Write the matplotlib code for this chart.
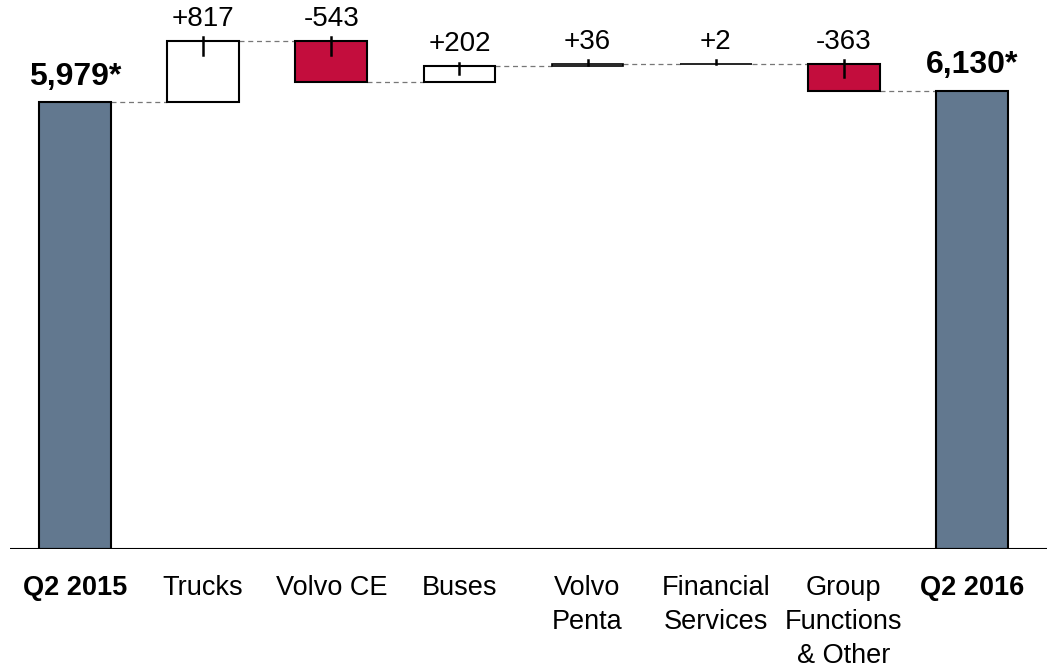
import numpy as np
import matplotlib.pyplot as plt

plt.rcParams['font.family'] = ['Liberation Sans', 'DejaVu Sans']

# Operating income bridge Q2 2015 -> Q2 2016
labels = ['Q2 2015', 'Trucks', 'Volvo CE', 'Buses', 'Volvo\nPenta',
          'Financial\nServices', 'Group\nFunctions\n& Other', 'Q2 2016']
start_total = 5979
end_total = 6130
deltas = [817, -543, 202, 36, 2, -363]
delta_text = ['+817', '-543', '+202', '+36', '+2', '-363']

slate = '#62788f'
red = '#c30d3d'
w = 0.56

fig = plt.figure(figsize=(10.47, 6.68), dpi=100)
ax = fig.add_axes([0.0095, 0.178, 0.9905, 0.822])
ax.set_xlim(-0.508, 7.586)
ax.set_ylim(0, 7343)

# totals
ax.bar(0, start_total, width=w, color=slate, edgecolor='black', linewidth=1.5, zorder=3)
ax.bar(7, end_total, width=w, color=slate, edgecolor='black', linewidth=1.5, zorder=3)
ax.text(0, start_total + 140, f'{start_total:,}*', ha='center', va='bottom',
        fontsize=23, fontweight='bold')
ax.text(7, end_total + 140, f'{end_total:,}*', ha='center', va='bottom',
        fontsize=23, fontweight='bold')

level = start_total
for i, d in enumerate(deltas):
    x = i + 1
    bottom = level if d > 0 else level + d
    top = bottom + abs(d)
    fc = 'white' if d > 0 else red
    ax.bar(x, abs(d), bottom=bottom, width=w, color=fc, edgecolor='black',
           linewidth=1.2 if abs(d) < 100 else 1.5, zorder=3)
    # center mark
    ax.plot([x, x], [top + 50, top - min(190, abs(d) / 2)], color='black',
            lw=1.8, zorder=4)
    ax.text(x, top + 120, delta_text[i], ha='center', va='bottom', fontsize=20)
    # connector from previous bar
    ax.plot([x - 1 + w / 2, x - w / 2], [level, level], color='#777777',
            lw=0.9, dashes=(4, 3), zorder=2)
    level += d
ax.plot([6 + w / 2, 7 - w / 2], [level, level], color='#777777',
        lw=0.9, dashes=(4, 3), zorder=2)

ax.axhline(0, color='black', lw=1.5, zorder=5)

ax.set_xticks(range(len(labels)))
ax.set_xticklabels(labels, fontsize=19.5, linespacing=1.38)
for t, lab in zip(ax.get_xticklabels(), labels):
    if lab.startswith('Q2'):
        t.set_fontweight('bold')
ax.tick_params(axis='x', length=0, pad=19)
ax.set_yticks([])
for s in ax.spines.values():
    s.set_visible(False)

fig.savefig('out.png', dpi=100)
